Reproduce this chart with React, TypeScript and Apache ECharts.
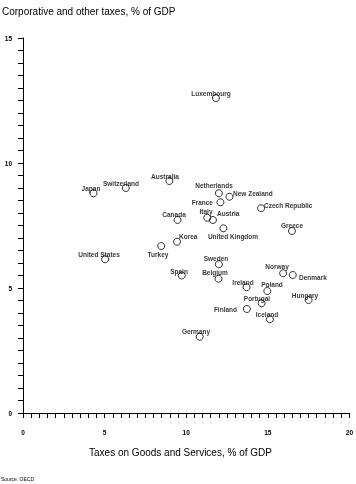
import React, { useEffect, useRef } from "react";
import * as echarts from "echarts";

const countries = [
  "Luxembourg", "Australia", "Switzerland", "Japan", "Canada", "Korea", "Turkey",
  "United States", "Spain", "Netherlands", "New Zealand", "France", "Czech Republic",
  "Italy", "Austria", "Greece", "United Kingdom", "Sweden", "Belgium", "Ireland",
  "Norway", "Denmark", "Poland", "Portugal", "Hungary", "Finland", "Iceland", "Germany",
];
const goodsTax = [
  11.82, 8.97, 6.3, 4.32, 9.47, 9.44, 8.47, 5.03, 9.73, 12.0, 12.65, 12.1, 14.59,
  11.29, 11.64, 16.48, 12.28, 12.0, 11.98, 13.7, 15.94, 16.53, 14.97, 14.62, 17.5,
  13.72, 15.13, 10.83,
];
const corpTax = [
  12.6, 9.28, 9.0, 8.79, 7.72, 6.85, 6.68, 6.15, 5.5, 8.79, 8.65, 8.43, 8.19, 7.81,
  7.72, 7.28, 7.39, 5.95, 5.37, 5.03, 5.59, 5.52, 4.88, 4.39, 4.52, 4.16, 3.75, 3.05,
];
const xTicks = { min: 0, max: 20, interval: 5 };
const yTicks = { min: 0, max: 15, interval: 5 };

// label placement: [align, dx, dy] relative to the point centre
const labelPlace: Record<string, [string, number, number]> = {
  Luxembourg: ["center", -4.5, -5.5],
  Australia: ["center", -4, -5.5],
  Switzerland: ["center", -5, -5.5],
  Japan: ["center", -2, -5],
  Canada: ["center", -4, -6],
  Korea: ["left", 2, -6],
  Turkey: ["center", -3, 8],
  "United States": ["center", -6.5, -5],
  Spain: ["center", -3, -5],
  Netherlands: ["center", -4.5, -8],
  "New Zealand": ["left", 3.5, -3.5],
  France: ["right", -7.5, 0],
  "Czech Republic": ["left", 3, -3.5],
  Italy: ["center", -1.3, -6.7],
  Austria: ["left", 4, -6.7],
  Greece: ["center", 0.5, -6],
  "United Kingdom": ["center", 10, 7.7],
  Sweden: ["center", -3, -6],
  Belgium: ["center", -4, -6.4],
  Ireland: ["center", -4, -5.7],
  Norway: ["center", -6.5, -7.6],
  Denmark: ["left", 6, 1.5],
  Poland: ["center", 5, -6.7],
  Portugal: ["center", -4.3, -5.6],
  Hungary: ["center", -3.7, -5],
  Finland: ["right", -10, 0],
  Iceland: ["center", -2.7, -5],
  Germany: ["center", -3.7, -5.7],
};

const FONT = "Liberation Sans";

export default function App() {
  const ref = useRef<HTMLDivElement>(null);
  useEffect(() => {
    if (!ref.current) return;
    const chart = echarts.init(ref.current, null, { renderer: "svg" });
    const data = countries.map((name, i) => ({
      name,
      value: [goodsTax[i], corpTax[i]],
    }));
    const axisCommon = {
      axisLine: { show: true, lineStyle: { color: "#000", width: 1 } },
      axisTick: { show: true, length: 5, lineStyle: { color: "#000" } },
      minorTick: { show: true, splitNumber: 10, length: 5, lineStyle: { color: "#000" } },
      splitLine: { show: false },
      axisLabel: { color: "#000", fontFamily: FONT, fontSize: 6.5, fontWeight: "bold" },
    };
    chart.setOption({
      animation: false,
      backgroundColor: "#fff",
      color: ["#000"],
      grid: { left: 23, right: 3, top: 38, bottom: 71, containLabel: false },
      xAxis: {
        type: "value",
        ...xTicks,
        offset: 9,
        ...axisCommon,
        axisLabel: { ...axisCommon.axisLabel, margin: 7 },
      },
      yAxis: {
        type: "value",
        ...yTicks,
        offset: 2,
        ...axisCommon,
        axisLabel: { ...axisCommon.axisLabel, margin: 9 },
      },
      graphic: [
        {
          type: "text",
          left: 2,
          top: 6,
          style: {
            text: "Corporative and other taxes, % of GDP",
            fontFamily: FONT,
            fontSize: 10,
            fill: "#000",
          },
        },
        {
          type: "text",
          x: 180.5,
          y: 452,
          style: {
            text: "Taxes on Goods and Services, % of GDP",
            fontFamily: FONT,
            fontSize: 10,
            fill: "#000",
            align: "center",
            verticalAlign: "middle",
          },
        },
        {
          type: "text",
          x: 1,
          y: 479,
          style: {
            text: "Source: OECD",
            fontFamily: FONT,
            fontSize: 5,
            fill: "#000",
            align: "left",
            verticalAlign: "middle",
          },
        },
      ],
      series: [
        {
          type: "scatter",
          symbol: "circle",
          symbolSize: 7,
          colorBy: "series",
          itemStyle: { color: "rgba(255,255,255,0)", borderColor: "#000", borderWidth: 1 },
          emphasis: { disabled: true },
          label: {
            show: true,
            position: "inside",
            formatter: (p: any) => p.name,
            color: "#000",
            textBorderWidth: 0,
            fontFamily: FONT,
            fontSize: 6.5,
            fontWeight: "bold",
          },
          labelLayout: (params: any) => {
            const name = countries[params.dataIndex];
            const p = labelPlace[name] || ["center", 0, -6];
            const cx = params.rect.x + params.rect.width / 2;
            const cy = params.rect.y + params.rect.height / 2;
            return {
              x: Math.round(cx + p[1]),
              y: Math.round(cy + p[2]),
              align: p[0],
              verticalAlign: "middle",
              hideOverlap: false,
            };
          },
          data,
        },
      ],
    });
    return () => chart.dispose();
  }, []);
  return (
    <div
      ref={ref}
      style={{
        position: "fixed",
        left: 0,
        top: 0,
        width: 356,
        height: 484,
        background: "#fff",
        filter: "grayscale(1)",
      }}
    />
  );
}
